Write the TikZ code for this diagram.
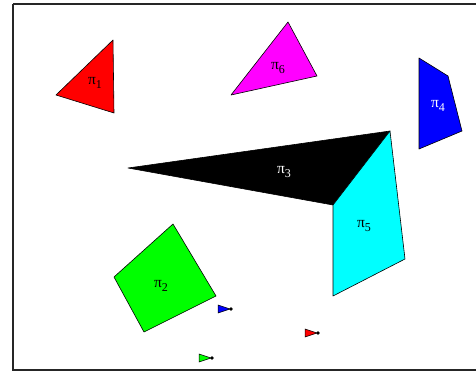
\documentclass[tikz,border=0pt]{standalone}
\usepackage{fontspec}
\setmainfont{Liberation Serif}
\definecolor{pmag}{RGB}{255,0,255}
\definecolor{pcyan}{RGB}{0,255,255}
\definecolor{pred}{RGB}{255,0,0}
\definecolor{pgreen}{RGB}{0,255,0}
\definecolor{pblue}{RGB}{0,0,255}
\newcommand{\pilab}[1]{π\raisebox{-0.55ex}{\fontsize{12}{13}\selectfont #1}}
\begin{document}
\begin{tikzpicture}[x=1pt,y=-1pt,
  poly/.style={draw=black,line width=0.6pt,line join=round},
  lab/.style={font=\fontsize{15.5}{17}\selectfont,inner sep=0pt},
  tick/.style={draw=black,line width=0.5pt}]
\useasboundingbox (0,0) rectangle (476,375);
\draw[line width=1.2pt,draw=black!85] (13,4) -- (480,4) (13,4) -- (13,370) -- (480,370);
% pi1
\fill[pred,poly] (56,95) -- (113,40) -- (114,113) -- cycle;
\node[lab] (p1) at (95,83) {\pilab{1}};
% pi6
\fill[pmag,poly] (231,95) -- (288,22) -- (317,76) -- cycle;
\node[lab] (p6) at (278,68) {\pilab{6}};
% pi4
\fill[pblue,poly] (419,58) -- (448,76) -- (462,131) -- (419,149) -- cycle;
\node[lab,white] (p4) at (438,106) {\pilab{4}};
% pi3
\fill[black,poly] (128,168) -- (390,131) -- (333,205) -- cycle;
\node[lab,white] (p3) at (284,172) {\pilab{3}};
% pi5
\fill[pcyan,poly] (333,205) -- (390,131) -- (405,259) -- (333,296) -- cycle;
\node[lab] (p5) at (364,226) {\pilab{5}};
% pi2
\fill[pgreen,poly] (114,277) -- (173,224) -- (216,296) -- (144,332) -- cycle;
\node[lab] (p2) at (161,286) {\pilab{2}};
% small markers
\filldraw[fill=pblue,tick] (218,305) -- (230,309) -- (218,313) -- cycle;
\fill (231,309) circle (1.8);
\filldraw[fill=pred,tick] (305,329) -- (317,333) -- (305,337) -- cycle;
\fill (318,333) circle (1.8);
\filldraw[fill=pgreen,tick] (199,354) -- (211,358) -- (199,362) -- cycle;
\fill (212,358) circle (1.8);
\end{tikzpicture}
\end{document}
